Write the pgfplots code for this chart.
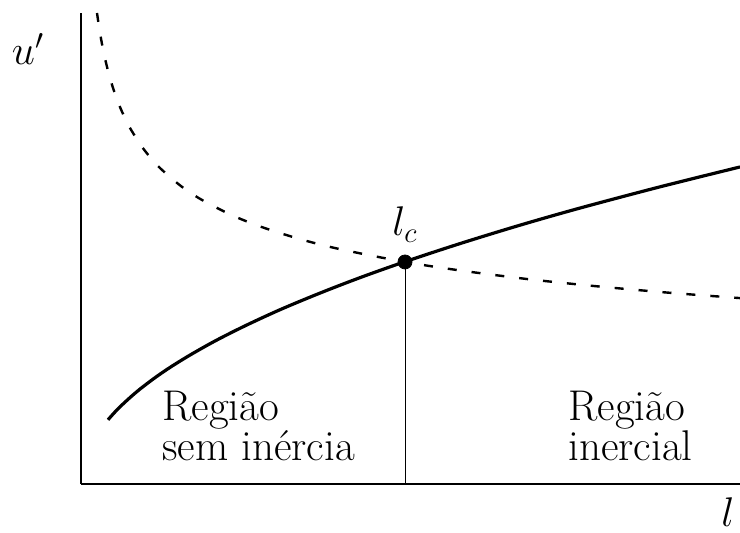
\documentclass[border=0pt]{standalone}
\usepackage{pgfplots}
\pgfplotsset{compat=1.18}

\newcommand{\lbl}{\fontsize{21.5}{17}\selectfont}

\begin{document}
\begin{tikzpicture}[x=0.5pt,y=0.5pt]
  % overall page frame (axis origin at 0,0)
  \useasboundingbox (-81,-49) rectangle (659,484);
  \begin{axis}[
    scale only axis,
    width=329.5pt, height=235.5pt,
    at={(0,0)}, anchor=origin,
    xmin=0, xmax=659, ymin=0, ymax=471,
    axis x line=bottom, axis y line=left,
    axis line style={-, line width=0.85pt},
    xtick=\empty, ytick=\empty,
    clip=false,
  ]
    % viscous (decreasing) scale
    \addplot[black, line width=1.2pt, dash pattern=on 4.5pt off 7.5pt, smooth] coordinates {
      (16,471.0) (18,457.3) (20,445.4) (22,435.0) (25,421.3) (28,409.5)
      (32,396.1) (36,384.6) (40,374.6) (45,363.7) (50,354.3) (60,338.5)
      (70,325.7) (80,315.0) (100,297.9) (120,284.6) (150,269.2)
      (180,257.2) (220,244.6) (260,234.6) (324,222.0) (380,213.4)
      (450,204.5) (520,197.3) (590,191.1) (659,185.9)
    };
    % inertial (increasing) scale
    \addplot[black, line width=1.6pt, smooth] coordinates {
      (27,64.2) (30,67.6) (35,73.1) (40,78.1) (50,87.3) (60,95.7)
      (75,107.0) (90,117.2) (110,129.5) (135,143.5) (165,158.6)
      (200,174.7) (240,191.3) (280,206.7) (324,222.3) (380,240.7)
      (440,259.1) (500,276.2) (580,297.4) (659,317.0)
    };
    % crossover length
    \addplot[black, line width=0.5pt] coordinates {(324,0) (324,222)};
    \addplot[only marks, mark=*, mark size=3.5pt, black] coordinates {(324,222)};

    \node[anchor=base, inner sep=0pt, font=\lbl] at (axis cs:324,248) {$l_c$};
    \node[anchor=base, inner sep=0pt, font=\lbl] at (axis cs:-53,419) {$u'$};
    \node[anchor=base, inner sep=0pt, font=\lbl] at (axis cs:647,-43) {$l$};

    \node[anchor=base west, inner sep=0pt, font=\lbl] at (axis cs:81,23)
      {\begin{tabular}[b]{@{}l@{}}Região\\ sem inércia\end{tabular}};
    \node[anchor=base west, inner sep=0pt, font=\lbl] at (axis cs:487,23)
      {\begin{tabular}[b]{@{}l@{}}Região\\ inercial\end{tabular}};
  \end{axis}
\end{tikzpicture}
\end{document}
